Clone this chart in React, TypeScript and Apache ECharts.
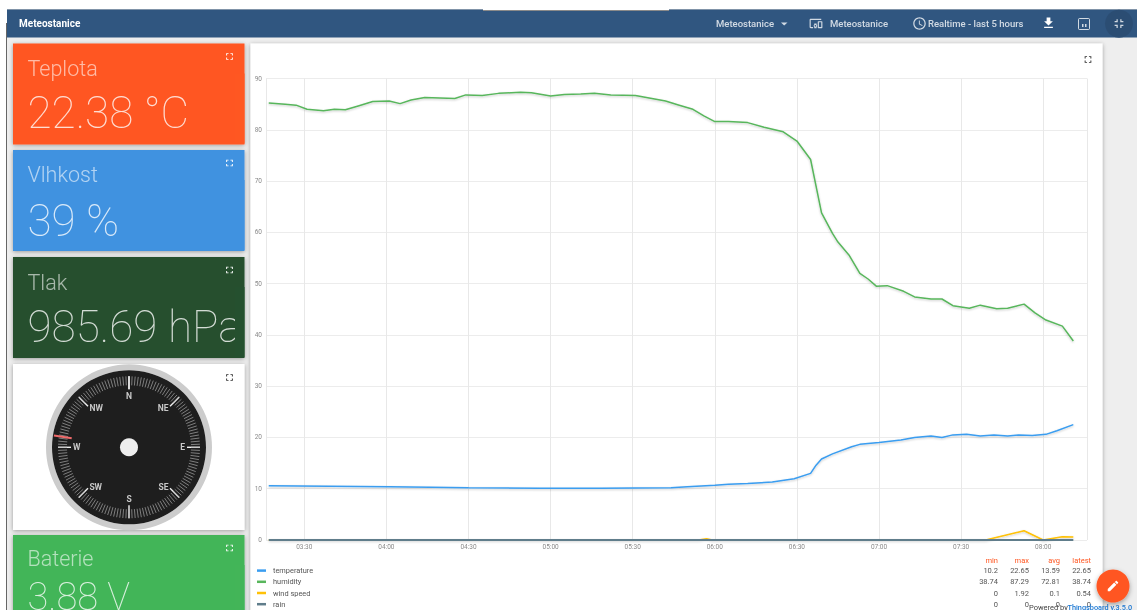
import React, { useEffect, useRef } from "react";
import * as echarts from "echarts";

const seriesNames = ["temperature", "humidity", "wind speed", "rain"];
const seriesColors = ["#3a9df0", "#58b65c", "#ffc107", "#607d8b"];

const temperatureTimes = ["03:17","03:39","04:01","04:16","04:30","04:56","05:18","05:44","05:50","06:00","06:05","06:12","06:21","06:29","06:35","06:37","06:39","06:43","06:50","06:53","07:00","07:08","07:13","07:19","07:23","07:27","07:32","07:37","07:42","07:47","07:51","07:56","08:01","08:05","08:11"];
const temperatureValues = [10.6,10.5,10.4,10.3,10.2,10.1,10.1,10.2,10.4,10.66,10.85,11,11.3,11.95,13,14.6,15.8,16.8,18.2,18.65,19,19.5,20,20.3,20,20.5,20.6,20.3,20.5,20.3,20.5,20.4,20.6,21.3,22.5];

const humidityTimes = ["03:17","03:23","03:27","03:31","03:37","03:41","03:45","03:50","03:55","04:01","04:05","04:09","04:14","04:25","04:29","04:35","04:41","04:49","04:53","05:00","05:05","05:11","05:16","05:22","05:31","05:36","05:42","05:47","05:52","05:56","06:00","06:05","06:12","06:18","06:25","06:30","06:35","06:39","06:43","06:45","06:49","06:53","06:56","06:59","07:03","07:09","07:13","07:19","07:23","07:27","07:33","07:37","07:43","07:47","07:53","07:57","08:01","08:07","08:11"];
const humidityValues = [85.2,85,84.8,84,83.7,84,83.9,84.7,85.5,85.6,85.1,85.8,86.3,86.1,86.8,86.7,87.1,87.3,87.2,86.6,86.9,87,87.1,86.8,86.7,86.2,85.6,84.8,84,82.7,81.6,81.6,81.4,80.5,79.6,77.8,74.2,63.8,59.8,58.1,55.6,52,50.9,49.5,49.6,48.5,47.4,47,47,45.7,45.2,45.8,45.1,45.2,46,44.3,42.9,41.7,38.8];

const windTimes = ["03:17","05:54","05:57","05:59","07:39","07:53","08:00","08:07","08:11"];
const windValues = [0,0,0.25,0,0,1.8,0,0.64,0.6];

const rainTimes = ["03:17","08:11"];
const rainValues = [0,0];

const yTickLabelStep = 10;
const statHeaders = ["min", "max", "avg", "latest"];
const temperatureStats = ["10.2", "22.65", "13.59", "22.65"];
const humidityStats = ["38.74", "87.29", "72.81", "38.74"];
const windStats = ["0", "1.92", "0.1", "0.54"];
const rainStats = ["0", "0", "0", "0"];

const cardTitles = ["Teplota", "Vlhkost", "Tlak", "Baterie"];
const cardValues = ["22.38 °C", "39 %", "985.69 hPa", "3.88 V"];
const cardColors = ["#ff5722", "#4092e0", "#25502f", "#43b558"];

const compassLabels: Record<number, string> = { 0: "N", 45: "NE", 90: "E", 135: "SE", 180: "S", 225: "SW", 270: "W", 315: "NW" };
const windDirection = 279;

const ICONS: Record<string, string> = {
  fsIcon: "M7 14H5v5h5v-2H7v-3zm-2-4h2V7h3V5H5v5zm12 7h-3v2h5v-5h-2v3zM14 5v2h3v3h2V5h-5z",
  fsExit: "M5 16h3v3h2v-5H5v2zm3-8H5v2h5V5H8v3zm6 11h2v-3h3v-2h-5v5zm2-11V5h-2v5h5V8h-3z",
  dlIcon: "M19 9h-4V3H9v6H5l7 7 7-7zM5 18v2h14v-2H5z",
  penIcon: "M3 17.25V21h3.75L17.81 9.94l-3.75-3.75L3 17.25zM20.71 7.04c.39-.39.39-1.02 0-1.41l-2.34-2.34c-.39-.39-1.02-.39-1.41 0l-1.83 1.83 3.75 3.75 1.83-1.83z",
  devIcon: "M3 6h18V4H3c-1.1 0-2 .9-2 2v12c0 1.1.9 2 2 2h4v-2H3V6zm10 6H9v1.78c-.61.55-1 1.33-1 2.22s.39 1.67 1 2.22V20h4v-1.78c.61-.55 1-1.34 1-2.22s-.39-1.67-1-2.22V12zm-2 5.5c-.83 0-1.5-.67-1.5-1.5s.67-1.5 1.5-1.5 1.5.67 1.5 1.5-.67 1.5-1.5 1.5zM22 8h-6c-.5 0-1 .5-1 1v10c0 .5.5 1 1 1h6c.5 0 1-.5 1-1V9c0-.5-.5-1-1-1zm-1 10h-4v-8h4v8z",
  clockIcon: "M11.99 2C6.47 2 2 6.48 2 12s4.47 10 9.99 10C17.52 22 22 17.52 22 12S17.52 2 11.99 2zM12 20c-4.42 0-8-3.58-8-8s3.58-8 8-8 8 3.58 8 8-3.58 8-8 8zm.5-13H11v6l5.25 3.15.75-1.23-4.5-2.67z",
};
Object.keys(ICONS).forEach((k) => echarts.graphic.registerShape(k, echarts.graphic.extendPath(ICONS[k], {})));

const FONT = "Roboto";
const toMs = (t: string) => {
  const [h, m] = t.split(":").map(Number);
  return new Date(2023, 5, 1, h, m).getTime();
};
const zipSeries = (times: string[], values: number[]) => times.map((t, i) => [toMs(t), values[i]]);

const rect = (x: number, y: number, w: number, h: number, fill: string, extra: any = {}) => ({
  type: "rect", silent: true, z: extra.z ?? 0,
  shape: { x, y, width: w, height: h },
  style: { fill, ...(extra.style || {}) },
});
const text = (t: string, x: number, y: number, size: number, fill: string, opts: any = {}) => ({
  type: "text", silent: true, x, y, z: opts.z ?? 1,
  style: {
    text: t, fill, fontSize: size, fontFamily: FONT, fontWeight: opts.weight ?? 400,
    textAlign: opts.align ?? "left", textVerticalAlign: "middle",
  },
});
const icon = (name: string, cx: number, cy: number, size: number, fill: string, z = 1) => ({
  type: name, silent: true, z, x: cx - size / 2, y: cy - size / 2, scaleX: size / 24, scaleY: size / 24,
  style: { fill },
});

const CARD_SHADOW = { shadowBlur: 4, shadowColor: "rgba(0,0,0,0.35)", shadowOffsetY: 1 };

function buildGraphics() {
  const els: any[] = [];
  els.push(rect(0, 0, 1137, 610, "#ffffff"));
  els.push(rect(7, 37, 1130, 573, "#eeeeee"));
  els.push(rect(6, 23, 1, 587, "#666666"));
  els.push(rect(7, 9.5, 1130, 28, "#305680"));
  els.push(rect(7, 9, 1130, 1, "#8093a8"));
  els.push(rect(483, 9, 186, 1.4, "#ffffff"));
  els.push(rect(483, 10, 186, 1, "#8a8a8a"));

  els.push(text("Meteostanice", 19, 23.5, 10, "#ffffff", { weight: 700 }));
  const hc = "rgba(255,255,255,0.78)";
  els.push(text("Meteostanice", 716, 23.5, 9.5, hc, { weight: 500 }));
  els.push({ type: "polygon", silent: true, z: 1, shape: { points: [[781, 22.5], [787.5, 22.5], [784.2, 25.5]] }, style: { fill: hc } });
  els.push(icon("devIcon", 816, 23.5, 14, hc));
  els.push(text("Meteostanice", 830, 23.5, 9.5, hc, { weight: 500 }));
  els.push(icon("clockIcon", 919.5, 23.5, 15, hc));
  els.push(text("Realtime - last 5 hours", 928, 23.5, 9.5, hc, { weight: 500 }));
  els.push(icon("dlIcon", 1048.5, 23, 15, "#ffffff"));
  els.push({ type: "rect", silent: true, z: 1, shape: { x: 1078.5, y: 18.5, width: 11, height: 11, r: 1 }, style: { fill: "none", stroke: hc, lineWidth: 1 } });
  els.push(rect(1082, 24, 1.5, 3, hc, { z: 1 }));
  els.push(rect(1085, 24, 1.5, 3, hc, { z: 1 }));
  els.push({ type: "circle", silent: true, z: 1, shape: { cx: 1119, cy: 23.7, r: 14 }, style: { fill: "#2b4d73" } });
  els.push(icon("fsExit", 1119, 23.5, 15, hc, 2));

  const cardTops = [43.5, 150, 257, 535];
  const cardH = [101, 101, 101, 80];
  const titleY = [68, 174.5, 282, 558];
  const valueY = [113, 220.5, 326.5, 597];
  const valueSize = [44, 44, 44, 38];
  cardTitles.forEach((title, i) => {
    const top = cardTops[i];
    els.push(rect(13, top, 231.5, cardH[i], cardColors[i], { style: CARD_SHADOW }));
    els.push(text(title, 27.5, titleY[i], 21.5, "rgba(255,255,255,0.6)", { weight: 300 }));
    els.push(text(cardValues[i], 27.5, valueY[i], valueSize[i], "rgba(255,255,255,0.8)", { weight: 100 }));
    // the card clips what runs past its padding
    els.push(rect(235, top + 30, 9.5, 70, cardColors[i], { z: 2 }));
    els.push(icon("fsIcon", 229.5, top + 13, 11.5, "#ffffff"));
  });
  // compass card
  els.push(rect(13, 364, 231.5, 166, "#ffffff", { style: CARD_SHADOW }));
  els.push(icon("fsIcon", 229.5, 377.5, 11.5, "#333333"));
  // chart card
  els.push(rect(250.5, 43.5, 852, 570, "#ffffff", { style: CARD_SHADOW }));
  els.push(icon("fsIcon", 1088, 59.5, 11.5, "#333333"));

  // stats table
  const colX = [998, 1029, 1060, 1091];
  const rowY = [570.5, 581.5, 593, 604];
  statHeaders.forEach((h, c) => els.push(text(h, colX[c], 560, 7.5, "#ff5722", { align: "right", z: 5 })));
  [temperatureStats, humidityStats, windStats, rainStats].forEach((row, r) =>
    row.forEach((v, c) => els.push(text(v, colX[c], rowY[r], 7.5, "#555555", { align: "right", z: 5 })))
  );

  // footer
  els.push(text("Powered by", 1029, 607.5, 7.5, "#444444", { z: 6 }));
  els.push(text("Thingsboard v.3.5.0", 1067.5, 607.5, 7.3, "#1976d2", { z: 6, weight: 500 }));

  // FAB
  els.push({ type: "circle", silent: true, z: 20, shape: { cx: 1113, cy: 586, r: 16.5 }, style: { fill: "#ff5722", shadowBlur: 5, shadowColor: "rgba(0,0,0,0.35)", shadowOffsetY: 2 } });
  els.push(icon("penIcon", 1113, 586, 14, "#ffffff", 21));
  return els;
}

export default function App() {
  const ref = useRef<HTMLDivElement>(null);
  useEffect(() => {
    const chart = echarts.init(ref.current!, undefined, { renderer: "svg" });
    const shadow = { shadowColor: "rgba(0,0,0,0.22)", shadowBlur: 2, shadowOffsetY: 1 };
    const lineSeries = [
      zipSeries(temperatureTimes, temperatureValues),
      zipSeries(humidityTimes, humidityValues),
      zipSeries(windTimes, windValues),
      zipSeries(rainTimes, rainValues),
    ].map((data, i) => ({
      type: "line", name: seriesNames[i], data, showSymbol: false, smooth: false, z: 3 + (i === 3 ? 1 : 0),
      // a filter on a perfectly flat line would hide it, so rain has no shadow
      lineStyle: i === 3 ? { color: seriesColors[i], width: 2 } : { color: seriesColors[i], width: 1.5, ...shadow },
      itemStyle: { color: seriesColors[i] },
      clip: false,
    }));
    chart.setOption({
      animation: false,
      graphic: { elements: buildGraphics() },
      grid: { left: 266, right: 50, top: 78.5, bottom: 70, show: true, borderColor: "#a8a8a8", borderWidth: 1, backgroundColor: "transparent" },
      legend: {
        show: true, data: seriesNames, orient: "vertical", left: 257, top: 565, itemWidth: 9, itemHeight: 2.5, itemGap: 0,
        icon: "rect", selectedMode: false, padding: 0,
        textStyle: { fontFamily: FONT, fontSize: 7.4, color: "#555555", height: 11.2, lineHeight: 11.2, padding: [0, 0, 0, 2] },
      },
      xAxis: {
        type: "time", min: toMs("03:16"), max: toMs("08:16"), splitNumber: 8,
        axisLine: { show: false }, axisTick: { show: false },
        splitLine: { show: true, lineStyle: { color: "#e8e8e8", width: 1 } },
        axisLabel: { formatter: "{HH}:{mm}", fontFamily: FONT, fontSize: 6.5, color: "#8a8a8a", margin: 3, showMinLabel: false, showMaxLabel: false, hideOverlap: false },
      },
      yAxis: {
        type: "value", min: 0, max: 90, interval: yTickLabelStep,
        axisLine: { show: false }, axisTick: { show: false },
        splitLine: { show: true, lineStyle: { color: "#ececec", width: 1 } },
        axisLabel: { fontFamily: FONT, fontSize: 6.5, color: "#8a8a8a", margin: 4 },
      },
      series: [
        ...lineSeries,
        {
          type: "gauge", silent: true, center: [129, 447.3], radius: 83, startAngle: 90, endAngle: -270, min: 0, max: 360,
          axisLine: { lineStyle: { width: 6, color: [[1, "#cccccc"]] } },
          axisTick: { show: false }, splitLine: { show: false }, axisLabel: { show: false },
          pointer: { show: false }, anchor: { show: false }, title: { show: false }, detail: { show: false },
          data: [{ value: 0 }], z: 2, tooltip: { show: false },
        },
        {
          type: "gauge", silent: true, center: [129, 447.3], radius: 77, startAngle: 90, endAngle: -270, min: 0, max: 360, splitNumber: 8,
          axisLine: { lineStyle: { width: 77, color: [[1, "#1e1e1e"]] } },
          axisTick: { show: true, splitNumber: 18, distance: -71, length: 9, lineStyle: { color: "#a8a8a8", width: 0.7 } },
          splitLine: { show: true, distance: -71, length: 13, lineStyle: { color: "#f0f0f0", width: 1.4 } },
          axisLabel: {
            show: true, distance: 79, color: "#c8c8c8", fontFamily: FONT, fontSize: 8.5, fontWeight: 700,
            formatter: (v: number) => compassLabels[v] ?? "",
          },
          pointer: { show: true, length: 18, width: 2, offsetCenter: [0, -58], icon: "rect", itemStyle: { color: "#ef6a6a" } },
          anchor: { show: true, size: 18, showAbove: true, itemStyle: { color: "#eeeeee", borderWidth: 0 } },
          title: { show: false }, detail: { show: false },
          data: [{ value: windDirection }], z: 3,
        },
      ],
    });
    return () => chart.dispose();
  }, []);
  return <div ref={ref} style={{ position: "absolute", left: 0, top: 0, width: 1137, height: 610, overflow: "hidden", filter: "blur(0.35px)" }} />;
}
